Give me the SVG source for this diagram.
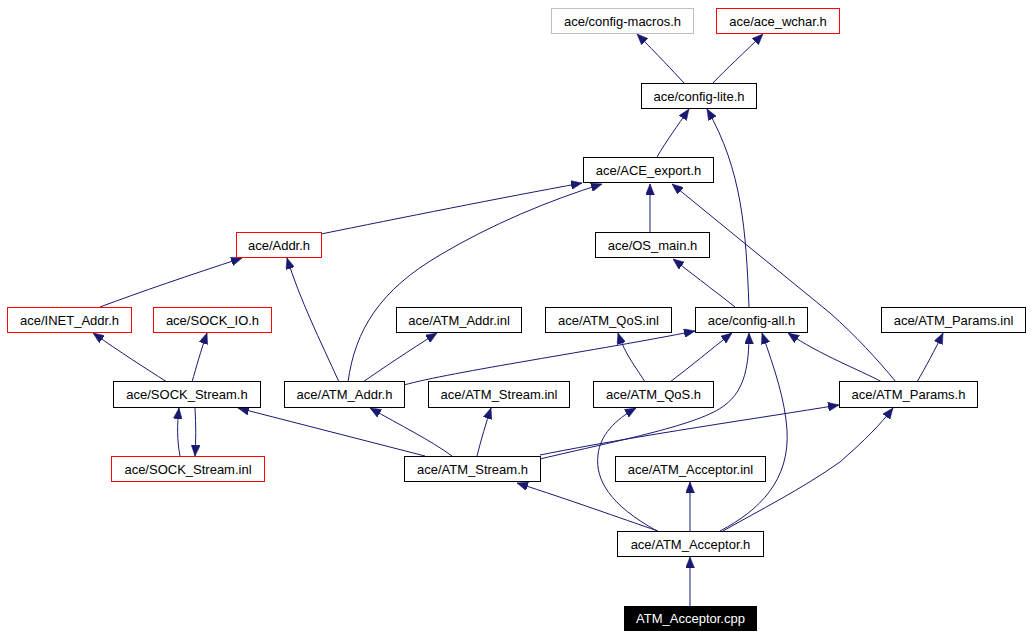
<svg xmlns="http://www.w3.org/2000/svg" width="1032" height="637" viewBox="0 0 1032 637">
<style>
.n rect{fill:#fff;stroke:#000;stroke-width:1}
.n.red rect{stroke:#ff0000}
.n.grey rect{stroke:#bfbfbf}
.n.cur rect{fill:#000;stroke:#000}
.n text{font-family:"Liberation Sans",Arial,sans-serif;font-size:13px;fill:#000;text-anchor:middle}
.n.cur text{fill:#fff}
#edges path{fill:none;stroke:#191970;stroke-width:1;marker-end:url(#ah)}
</style>
<defs>
<marker id="ah" markerUnits="userSpaceOnUse" markerWidth="11" markerHeight="9" viewBox="0 0 11 9" refX="11" refY="4.5" orient="auto">
<path d="M0,0 L11,4.5 L0,9 z" fill="#191970" stroke="#191970" stroke-width="0.5"/>
</marker>
</defs>
<rect width="1032" height="637" fill="#fff"/>
<g id="edges">
<path d="M684,83 C 672,70 658,55 637,34"/>
<path d="M713,83 C 725,70 745,52 763,34"/>
<path d="M657,157 C 665,143 678,125 689,109"/>
<path d="M749,307 C 746,230 742,170 707,109"/>
<path d="M321,234 C 400,218 500,198 582,183"/>
<path d="M348,382 C 355,330 380,290 440,255 C 490,225 550,200 602,184"/>
<path d="M650,232 L650,184"/>
<path d="M896,382 C 878,360 855,335 830,313 L672,184"/>
<path d="M100,307 C 140,292 190,275 242,258"/>
<path d="M339,382 C 320,340 300,300 287,258"/>
<path d="M735,307 C 720,295 700,280 673,259"/>
<path d="M167,382 C 145,368 120,352 93,333"/>
<path d="M192,382 C 196,368 201,350 207,333"/>
<path d="M195,408 C 196,425 196,440 195,456"/>
<path d="M180,456 C 177,440 177,425 179,408"/>
<path d="M363,382 C 380,370 410,350 437,333"/>
<path d="M404,385 C 450,372 600,350 695,331"/>
<path d="M645,382 C 638,370 625,355 618,333"/>
<path d="M670,382 C 690,367 710,350 732,333"/>
<path d="M882,382 C 860,370 820,355 788,333"/>
<path d="M917,382 C 925,368 935,350 943,333"/>
<path d="M425,456 L238,408"/>
<path d="M452,456 C 430,440 400,425 370,408"/>
<path d="M477,456 C 481,440 486,423 491,408"/>
<path d="M540,459 C 620,440 700,425 725,405 C 745,390 749,365 749,333"/>
<path d="M540,455 C 640,435 760,418 839,405"/>
<path d="M658,531 C 620,518 570,500 517,483"/>
<path d="M657,531 C 610,505 595,480 598,455 C 600,435 615,420 636,408"/>
<path d="M690,531 L690,482"/>
<path d="M720,531 C 760,510 790,480 787,430 C 785,400 775,370 762,333"/>
<path d="M723,531 C 760,510 800,490 840,462 C 865,440 880,425 893,408"/>
<path d="M690,606 L690,557"/>
</g>
<g id="config-macros" class="n grey"><rect x="551.5" y="8.5" width="142" height="25"/><text x="622.5" y="25.5">ace/config-macros.h</text></g>
<g id="ace_wchar" class="n red"><rect x="716.5" y="8.5" width="123" height="25"/><text x="778" y="25.5">ace/ace_wchar.h</text></g>
<g id="config-lite" class="n"><rect x="641.5" y="83.5" width="115" height="25"/><text x="699" y="100.5">ace/config-lite.h</text></g>
<g id="ACE_export" class="n"><rect x="583.5" y="157.5" width="130" height="25"/><text x="648.5" y="174.5">ace/ACE_export.h</text></g>
<g id="Addr" class="n red"><rect x="236.5" y="232.5" width="85" height="25"/><text x="279" y="249.5">ace/Addr.h</text></g>
<g id="OS_main" class="n"><rect x="595.5" y="232.5" width="114" height="25"/><text x="652.5" y="249.5">ace/OS_main.h</text></g>
<g id="INET_Addr" class="n red"><rect x="7.5" y="307.5" width="124" height="25"/><text x="69.5" y="324.5">ace/INET_Addr.h</text></g>
<g id="SOCK_IO" class="n red"><rect x="153.5" y="307.5" width="118" height="25"/><text x="212.5" y="324.5">ace/SOCK_IO.h</text></g>
<g id="ATM_Addr_inl" class="n"><rect x="396.5" y="307.5" width="125" height="25"/><text x="459" y="324.5">ace/ATM_Addr.inl</text></g>
<g id="ATM_QoS_inl" class="n"><rect x="545.5" y="307.5" width="126" height="25"/><text x="608.5" y="324.5">ace/ATM_QoS.inl</text></g>
<g id="config-all" class="n"><rect x="695.5" y="307.5" width="112" height="25"/><text x="751.5" y="324.5">ace/config-all.h</text></g>
<g id="ATM_Params_inl" class="n"><rect x="881.5" y="307.5" width="144" height="25"/><text x="953.5" y="324.5">ace/ATM_Params.inl</text></g>
<g id="SOCK_Stream_h" class="n"><rect x="113.5" y="381.5" width="147" height="26"/><text x="187" y="399">ace/SOCK_Stream.h</text></g>
<g id="ATM_Addr_h" class="n"><rect x="284.5" y="381.5" width="120" height="26"/><text x="344.5" y="399">ace/ATM_Addr.h</text></g>
<g id="ATM_Stream_inl" class="n"><rect x="428.5" y="381.5" width="141" height="26"/><text x="499" y="399">ace/ATM_Stream.inl</text></g>
<g id="ATM_QoS_h" class="n"><rect x="593.5" y="381.5" width="120" height="26"/><text x="653.5" y="399">ace/ATM_QoS.h</text></g>
<g id="ATM_Params_h" class="n"><rect x="839.5" y="381.5" width="138" height="26"/><text x="908.5" y="399">ace/ATM_Params.h</text></g>
<g id="SOCK_Stream_inl" class="n red"><rect x="111.5" y="456.5" width="153" height="25"/><text x="188" y="473.5">ace/SOCK_Stream.inl</text></g>
<g id="ATM_Stream_h" class="n"><rect x="404.5" y="456.5" width="136" height="25"/><text x="472.5" y="473.5">ace/ATM_Stream.h</text></g>
<g id="ATM_Acceptor_inl" class="n"><rect x="615.5" y="456.5" width="150" height="25"/><text x="690.5" y="473.5">ace/ATM_Acceptor.inl</text></g>
<g id="ATM_Acceptor_h" class="n"><rect x="617.5" y="531.5" width="146" height="25"/><text x="690.5" y="548.5">ace/ATM_Acceptor.h</text></g>
<g id="ATM_Acceptor_cpp" class="n cur"><rect x="624.5" y="606.5" width="132" height="24"/><text x="690.5" y="623">ATM_Acceptor.cpp</text></g>
</svg>
